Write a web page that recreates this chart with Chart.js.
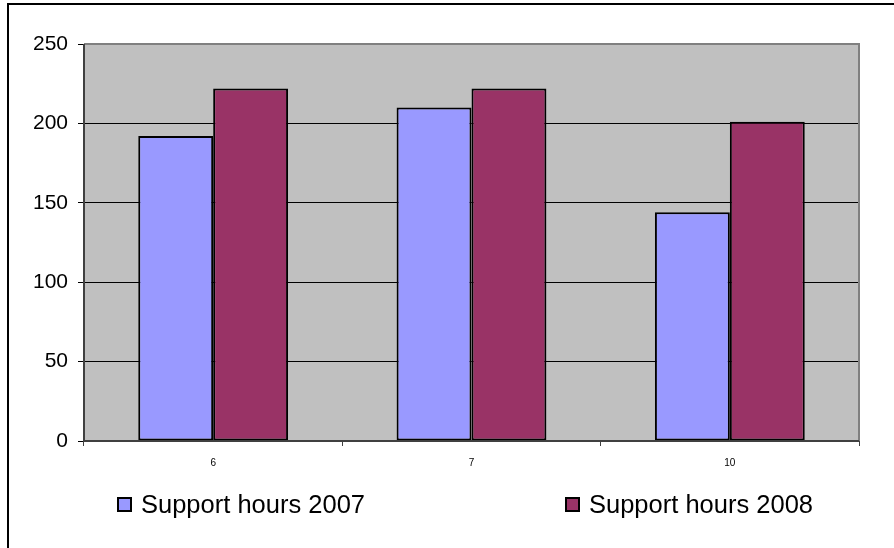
<!DOCTYPE html>
<html>
<head>
<meta charset="utf-8">
<script src="https://cdn.jsdelivr.net/npm/chart.js@4.4.1/dist/chart.umd.min.js"></script>
<style>
  html, body { margin: 0; padding: 0; background: #fff; }
  #wrap { position: relative; width: 894px; height: 548px; overflow: hidden; }
  /* рамка области диаграммы: видна только левая и верхняя сторона */
  #frame { position: absolute; left: 7px; top: 3px; width: 1000px; height: 1000px;
           border-left: 2px solid #000; border-top: 2px solid #000; }
  #chart { position: absolute; left: 0; top: 0; }
  .lg { position: absolute; top: 490px; height: 25px; line-height: 25px;
        font: 25.5px "Liberation Sans", Arial, sans-serif; color: #000; white-space: nowrap; }
  .lg__box { position: absolute; top: 7px; width: 15px; height: 15px;
             box-sizing: border-box; border: 2px solid #000; }
  .lg__text { position: absolute; }
</style>
</head>
<body>
<div id="wrap">
  <div id="frame"></div>
  <canvas id="chart" width="894" height="548"></canvas>
  <div id="legend"></div>
</div>
<script>
const MONTHS = ["6", "7", "10"];
const HOURS_2007 = [192, 210, 144];
const HOURS_2008 = [222, 222, 201];
const SERIES_NAMES = ["Support hours 2007", "Support hours 2008"];
const SERIES_COLORS = ["#9999FF", "#993366"];
const Y_MAX = 250;
const Y_STEP = 50;

const FONT = "'Liberation Sans', Arial, sans-serif";

// серый фон и рамка области построения
const plotBg = {
  id: "plotBg",
  beforeDraw(chart) {
    const { ctx, chartArea: a } = chart;
    ctx.save();
    ctx.fillStyle = "#C0C0C0";
    ctx.fillRect(a.left, a.top, a.right - a.left, a.bottom - a.top);
    ctx.restore();
  },
  afterDatasetsDraw(chart) {
    const { ctx, chartArea: a } = chart;
    ctx.save();
    ctx.strokeStyle = "#808080";
    ctx.lineWidth = 2;
    ctx.beginPath();
    ctx.moveTo(a.left, a.top);
    ctx.lineTo(a.right, a.top);
    ctx.lineTo(a.right, a.bottom);
    ctx.stroke();
    ctx.strokeStyle = "#404040";
    ctx.beginPath();
    ctx.moveTo(a.left, a.top);
    ctx.lineTo(a.left, a.bottom);
    ctx.lineTo(a.right, a.bottom);
    ctx.stroke();
    ctx.restore();
  },
};

const chart = new Chart(document.getElementById("chart"), {
  type: "bar",
  data: {
    labels: MONTHS,
    datasets: [HOURS_2007, HOURS_2008].map((vals, i) => ({
      label: SERIES_NAMES[i],
      data: vals,
      backgroundColor: SERIES_COLORS[i],
      borderColor: "#000",
      borderWidth: 2,
      borderSkipped: false,
      categoryPercentage: 0.58,
      barPercentage: 1,
    })),
  },
  options: {
    responsive: false,
    animation: false,
    layout: { padding: { left: 0, top: 44, right: 35, bottom: 0 } },
    plugins: { legend: { display: false }, tooltip: { enabled: false } },
    scales: {
      x: {
        offset: true,
        grid: { offset: true, drawOnChartArea: false, drawTicks: true, tickLength: 5, color: "#404040", lineWidth: 1 },
        border: { display: false },
        ticks: { color: "#000", font: { family: FONT, size: 10 }, padding: 11, maxRotation: 0 },
        afterFit: (s) => { s.height = 107; },
      },
      y: {
        min: 0,
        max: Y_MAX,
        ticks: { stepSize: Y_STEP, color: "#000", font: { family: FONT, size: 21 }, padding: 10 },
        grid: { color: "#000", tickColor: "#000", lineWidth: 1, tickLength: 6, drawTicks: true },
        border: { display: false },
        afterFit: (s) => { s.width = 84; },
      },
    },
  },
  plugins: [plotBg],
});

// легенда под графиком, из тех же наборов данных
const LEGEND_X = [117, 565];
const legendEl = document.getElementById("legend");
chart.data.datasets.forEach((ds, i) => {
  const item = document.createElement("div");
  item.className = "lg";
  item.style.left = LEGEND_X[i] + "px";
  item.innerHTML = `<span class="lg__box" style="left:0;background:${ds.backgroundColor}"></span>` +
                   `<span class="lg__text" style="left:24px">${ds.label}</span>`;
  legendEl.appendChild(item);
});
</script>
</body>
</html>
